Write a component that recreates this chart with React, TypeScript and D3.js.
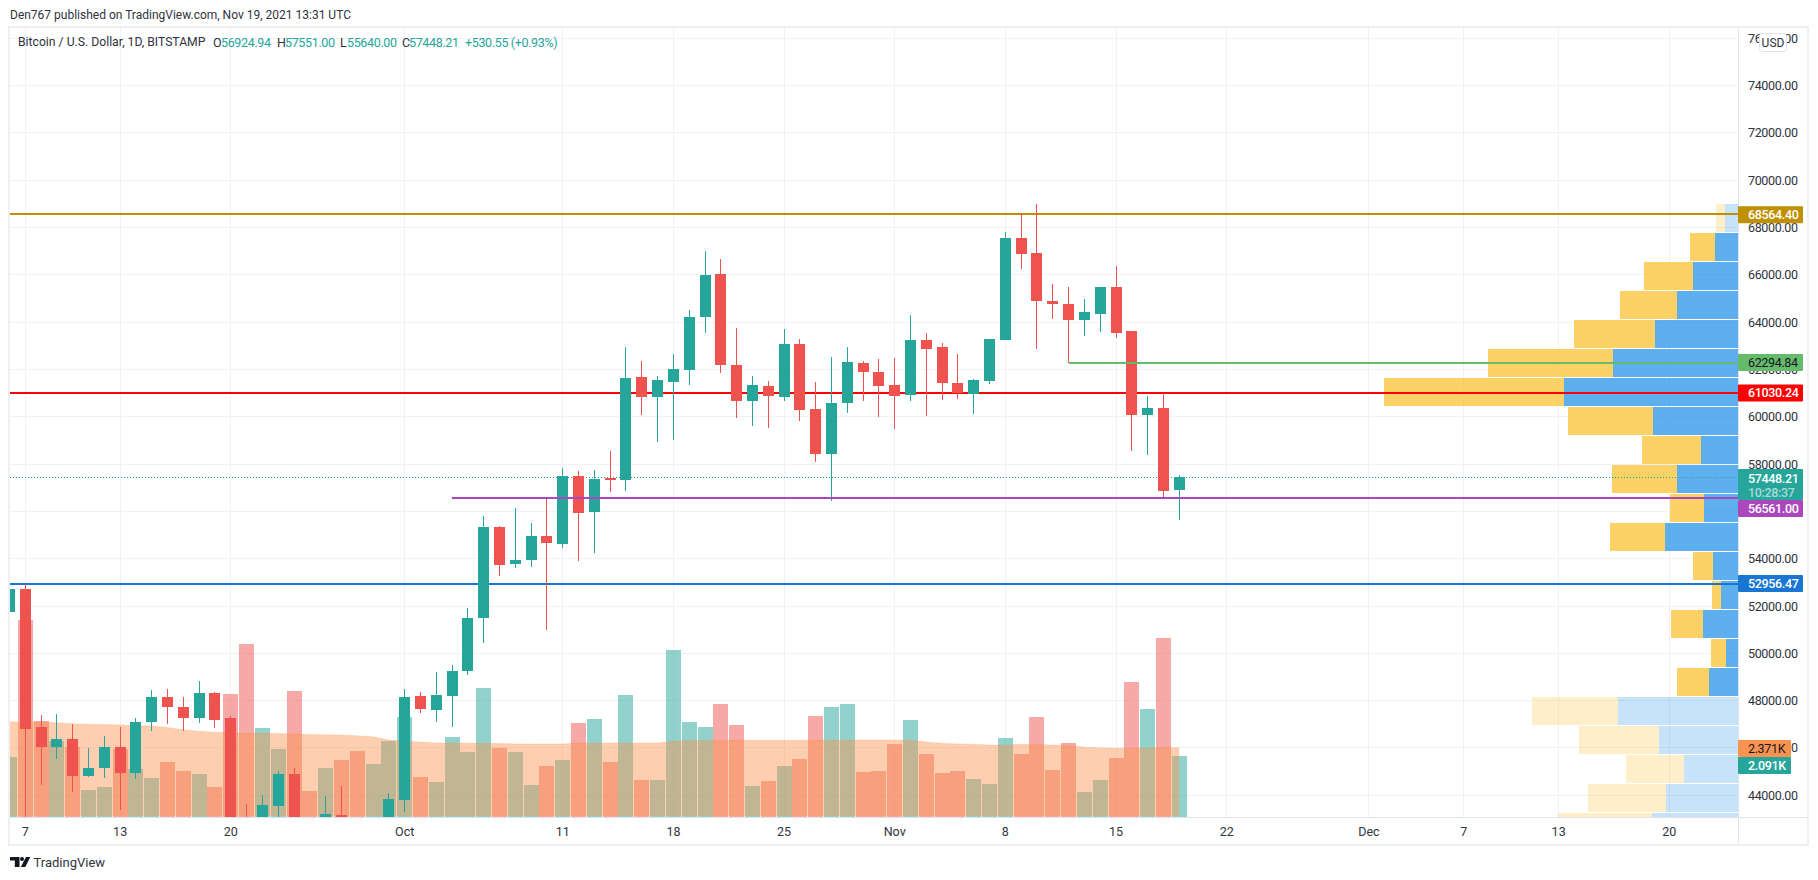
import React from 'react'
import * as d3 from 'd3'

// daily candles, first one is 6 Sep 2021
const firstDay = new Date(Date.UTC(2021, 8, 6))

const opens = [51768, 52728, 46893, 46047, 46386, 44821, 45160, 46047, 44948, 47104, 48161, 47739, 47274, 48331, 47274, 42900, 40700, 43553, 44906, 42800, 42700, 43173, 42200, 41050, 41500,
  43807, 48204, 47612, 48204, 49261, 51502, 55349, 53785, 53954, 54969, 54630, 57505, 55983, 57421, 57336, 61691, 60845, 61480, 61987, 64228, 66046, 62198, 60676, 61311, 60845, 63086, 60338, 58435, 60592, 62283, 61902,
  61353, 60930, 63255, 62959, 61437, 60972, 61522, 63255, 67568, 66934, 64904, 64777, 64101, 64355, 65496, 63636, 60084, 60380, 56924.94]
const highs = [52900, 52950, 47400, 47443, 47020, 46005, 46513, 46893, 47274, 48457, 48500, 48161, 48838, 48376, 47358, 43638, 44018, 45033, 45160, 42900, 43976, 44399, 42780, 42600, 44103,
  48500, 48376, 49218, 49514, 51924, 55814, 55400, 56152, 55518, 56533, 57844, 57717, 57759, 58562, 62959, 62368, 61733, 62663, 64524, 67018, 66680, 63763, 61733, 61522, 63720, 63298, 61480, 62537, 62959, 62368, 62452,
  62494, 64312, 63551, 63129, 62663, 61606, 63298, 67822, 68625, 69005, 65623, 65496, 64989, 65496, 66384, 63636, 60888, 61015, 57551]
const lows = [51400, 42900, 44441, 45540, 44145, 44779, 44737, 43384, 44695, 46724, 47020, 46724, 47062, 46851, 42400, 39600, 39700, 43000, 40800, 41700, 40800, 42100, 40900, 40800, 41300,
  43299, 47485, 47104, 46893, 49092, 50445, 53277, 53616, 53658, 50994, 54461, 53912, 54250, 56829, 56871, 60084, 58943, 59027, 61353, 63551, 61860, 59958, 59619, 59535, 60676, 59831, 58097, 56448, 60169, 60676, 60000,
  59492, 60676, 60042, 60719, 60761, 60127, 61395, 63255, 66257, 62875, 64143, 62283, 63424, 63594, 63340, 58562, 58393, 56617, 55640]
const closes = [52728, 46809, 46047, 46386, 44821, 45160, 46047, 44948, 47104, 48161, 47739, 47274, 48331, 47189, 42900, 40700, 43595, 44906, 42800, 42700, 43215, 42200, 41050, 41500, 43849,
  48161, 47654, 48246, 49261, 51502, 55349, 53742, 53954, 54969, 54673, 57505, 55941, 57378, 57336, 61649, 60845, 61564, 62029, 64228, 66004, 62198, 60676, 61353, 60888, 63086, 60296, 58435, 60592, 62325, 61902, 61311,
  60888, 63255, 62875, 61437, 61015, 61564, 63298, 67568, 66892, 64904, 64777, 64101, 64439, 65496, 63551, 60084, 60380, 56871, 57448.21]

// volume in thousands
const volumes = [2.06, 6.68, 3.27, 2.6, 2.39, 0.94, 1.05, 2.33, 1.65, 1.35, 1.89, 1.59, 1.48, 1.05, 4.18, 5.87, 3.04, 2.33, 4.28, 0.91, 1.69, 1.96, 2.26, 1.82, 2.6,
  3.41, 1.38, 1.21, 2.73, 2.23, 4.38, 2.36, 2.23, 1.11, 1.75, 1.96, 3.2, 3.34, 1.89, 4.15, 1.28, 1.28, 5.67, 3.24, 3.07, 3.84, 3.14, 1.08, 1.25, 1.75, 1.99, 3.44, 3.74, 3.84, 1.55, 1.59,
  2.5, 3.31, 2.16, 1.52, 1.59, 1.32, 1.15, 2.7, 2.16, 3.41, 1.62, 2.53, 0.88, 1.28, 2.02, 4.59, 3.68, 6.07, 2.091]
const volumeMa = [3.24, 3.24, 3.24, 3.21, 3.18, 3.16, 3.15, 3.14, 3.11, 3.11, 3.05, 2.98, 2.93, 2.89, 2.87, 2.87, 2.87, 2.85, 2.83, 2.82, 2.81, 2.8, 2.77, 2.74, 2.63,
  2.6, 2.56, 2.53, 2.53, 2.52, 2.52, 2.51, 2.5, 2.5, 2.5, 2.5, 2.53, 2.53, 2.53, 2.53, 2.53, 2.53, 2.59, 2.62, 2.62, 2.62, 2.63, 2.62, 2.62, 2.62, 2.62, 2.63, 2.63, 2.63, 2.63, 2.63,
  2.63, 2.63, 2.56, 2.52, 2.5, 2.49, 2.46, 2.46, 2.49, 2.48, 2.46, 2.45, 2.39, 2.37, 2.35, 2.35, 2.36, 2.38, 2.371]

// volume profile rows, top row first
const profileTop = 69005
const profileStep = 1226
const profileSell = [9, 25, 49, 57, 81, 125, 180, 85, 59, 65, 34, 55, 20, 9, 32, 15, 32, 86, 80, 58, 78, 94]
const profileBuy = [13, 23, 45, 61, 83, 125, 174, 85, 37, 61, 34, 73, 25, 17, 35, 12, 29, 120, 79, 54, 72, 86]
const profileFaded = [true, false, false, false, false, false, false, false, false, false, false, false, false, false, false, false, false, true, true, true, true, true]

const priceTicks = d3.range(44000, 76001, 2000)
const timeTicks: [string, Date][] = [
  ['7', new Date(Date.UTC(2021, 8, 7))], ['13', new Date(Date.UTC(2021, 8, 13))], ['20', new Date(Date.UTC(2021, 8, 20))],
  ['Oct', new Date(Date.UTC(2021, 9, 1))], ['11', new Date(Date.UTC(2021, 9, 11))], ['18', new Date(Date.UTC(2021, 9, 18))], ['25', new Date(Date.UTC(2021, 9, 25))],
  ['Nov', new Date(Date.UTC(2021, 10, 1))], ['8', new Date(Date.UTC(2021, 10, 8))], ['15', new Date(Date.UTC(2021, 10, 15))], ['22', new Date(Date.UTC(2021, 10, 22))],
  ['Dec', new Date(Date.UTC(2021, 11, 1))], ['7', new Date(Date.UTC(2021, 11, 7))], ['13', new Date(Date.UTC(2021, 11, 13))], ['20', new Date(Date.UTC(2021, 11, 20))],
]

const lastPrice = 57448.21
const levelGold = 68564.4
const levelGreen = 62294.84
const levelRed = 61030.24
const levelPurple = 56561
const levelBlue = 52956.47

const UP = '#26a69a'
const DOWN = '#ef5350'
const GRID = '#f1f2f5'
const BORDER = '#e0e3eb'
const FONT = 'Roboto, "Open Sans", sans-serif'
const TEXT = '#2f333d'
const FS = 12.5
const TIGHT = -0.35

const left = 10
const right = 1738
const top = 28
const bottom = 817

const x = d3.scaleUtc().domain([new Date(Date.UTC(2021, 8, 7)), new Date(Date.UTC(2021, 11, 20))]).range([25.3, 1669.3])
const y = d3.scaleLinear().domain([44000, 76000]).range([795.3, 38.3])
const yVol = d3.scaleLinear().domain([0, 1]).range([818, 788.35])
const profileWidth = d3.scaleLinear().domain([0, 100]).range([0, 100])

const days = opens.map((_, i) => d3.utcDay.offset(firstDay, i))

const maArea = d3.area<number>()
  .x((_, i) => x(days[i]))
  .y0(yVol(0.06))
  .y1(d => yVol(d))
const maLine = d3.line<number>()
  .x((_, i) => x(days[i]))
  .y(d => yVol(d))

const Level = ({ price, color, from = left }: { price: number, color: string, from?: number }) => (
  <rect x={from} width={right - from} y={Math.round(y(price) + 0.2) - 1} height={2} fill={color} shapeRendering="crispEdges" />
)

const Pill = ({ cy, color, label, textColor = '#fff', w = 65 }: { cy: number, color: string, label: string, textColor?: string, w?: number }) => (
  <g>
    <rect x={right} y={cy - 8.5} width={w} height={17} rx={1} fill={color} />
    <text x={right + 10} y={cy} dy="0.36em" fontSize={FS} letterSpacing={TIGHT} fontWeight={textColor === '#fff' ? 500 : 400} fill={textColor}>{label}</text>
  </g>
)

export default function App() {
  return (
    <svg width={1818} height={880} style={{ position: 'absolute', left: 0, top: 0, background: '#fff' }} fontFamily={FONT}>
      <defs>
        <clipPath id="plot"><rect x={left} y={top} width={right - left} height={bottom - top} /></clipPath>
      </defs>

      <text x={10} y={15} dy="0.36em" fontSize={12} fill={TEXT}>Den767 published on TradingView.com, Nov 19, 2021 13:31 UTC</text>

      {/* grid */}
      <g stroke={GRID} strokeWidth={1} shapeRendering="crispEdges">
        {priceTicks.map(p => <line key={p} x1={left} x2={right} y1={y(p)} y2={y(p)} />)}
        {timeTicks.map(([l, d]) => <line key={l + d.getTime()} x1={x(d)} x2={x(d)} y1={top} y2={bottom} />)}
      </g>

      <g clipPath="url(#plot)">
        {/* volume profile */}
        <g shapeRendering="crispEdges">
          {profileBuy.map((b, i) => {
            const rowY = Math.round(y(profileTop - i * profileStep))
            const s = profileSell[i]
            const bw = profileWidth(b)
            const sw = profileWidth(s)
            const faded = profileFaded[i]
            return (
              <g key={i}>
                <rect x={right - bw} y={rowY} width={bw} height={28} fill="rgb(30,144,230)" fillOpacity={faded ? 0.25 : 0.72} />
                <rect x={right - bw - sw} y={rowY} width={sw} height={28} fill="rgb(251,192,45)" fillOpacity={faded ? 0.25 : 0.72} />
              </g>
            )
          })}
        </g>

        {/* volume bars */}
        <g shapeRendering="crispEdges">
          {volumes.map((v, i) => (
            <rect key={i} x={Math.round(x(days[i]) - 7.5)} y={yVol(v)} width={15} height={yVol(0) - yVol(v)}
              fill={closes[i] >= opens[i] ? UP : DOWN} fillOpacity={0.5} />
          ))}
        </g>
        <path d={maArea(volumeMa) as string} fill="rgb(251,146,74)" fillOpacity={0.44} />
        <path d={maLine(volumeMa) as string} fill="none" stroke="rgb(251,146,74)" strokeOpacity={0.2} />

        {/* last price */}
        <line x1={left} x2={right} y1={Math.round(y(lastPrice)) + 0.5} y2={Math.round(y(lastPrice)) + 0.5} stroke={UP} strokeDasharray="1 2" shapeRendering="crispEdges" />
        <Level price={levelRed} color="#ff0000" />
        <Level price={levelGold} color="#bf9000" />
        <Level price={levelBlue} color="#1976d2" />

        {/* candles */}
        <g shapeRendering="crispEdges">
          {opens.map((o, i) => {
            const c = closes[i]
            const cx = x(days[i])
            const color = c >= o ? UP : DOWN
            const bodyTop = y(Math.max(o, c))
            const bodyBottom = y(Math.min(o, c))
            return (
              <g key={i} fill={color}>
                <rect x={Math.floor(cx)} y={y(highs[i])} width={1} height={y(lows[i]) - y(highs[i])} />
                <rect x={Math.floor(cx) - 5} y={bodyTop} width={11} height={Math.max(1, bodyBottom - bodyTop)} />
              </g>
            )
          })}
        </g>

        <Level price={levelGreen} color="#66bb6a" from={x(days[67])} />
        <Level price={levelPurple} color="#ab47bc" from={x(days[28])} />
      </g>

      {/* frame and scale lines */}
      <rect x={9} y={27} width={1799} height={818} fill="none" stroke="#eff0f3" strokeWidth={2} />
      <g stroke={BORDER} strokeWidth={1} shapeRendering="crispEdges">
        <line x1={right} x2={right} y1={top} y2={844} />
        <line x1={left} x2={1807} y1={bottom} y2={bottom} />
      </g>

      {/* legend */}
      <g fontSize={FS} fill={UP}>
        <text x={18} y={42} dy="0.36em" fontSize={12.2} fill={TEXT}>Bitcoin / U.S. Dollar, 1D, BITSTAMP</text>
        <text x={213} y={42} dy="0.36em" fill={TEXT}>O</text>
        <text x={221} y={42} dy="0.36em" letterSpacing={TIGHT}>56924.94</text>
        <text x={277} y={42} dy="0.36em" fill={TEXT}>H</text>
        <text x={285} y={42} dy="0.36em" letterSpacing={TIGHT}>57551.00</text>
        <text x={340} y={42} dy="0.36em" fill={TEXT}>L</text>
        <text x={347} y={42} dy="0.36em" letterSpacing={TIGHT}>55640.00</text>
        <text x={402} y={42} dy="0.36em" fill={TEXT}>C</text>
        <text x={409} y={42} dy="0.36em" letterSpacing={TIGHT}>57448.21</text>
        <text x={465} y={42} dy="0.36em" letterSpacing={TIGHT}>+530.55 (+0.93%)</text>
      </g>

      {/* axes */}
      <g fontSize={FS} fill={TEXT}>
        {priceTicks.map(p => (
          <text key={p} x={right + 10} y={y(p)} dy="0.36em" letterSpacing={TIGHT}>{p.toFixed(2)}</text>
        ))}
        {timeTicks.map(([l, d]) => (
          <text key={l + d.getTime()} x={x(d)} y={831} dy="0.36em" textAnchor="middle">{l}</text>
        ))}
      </g>

      <Pill cy={y(levelGold) + 0.5} color="#bf9000" label={levelGold.toFixed(2)} />
      <Pill cy={y(levelGreen)} color="#66bb6a" label={levelGreen.toFixed(2)} textColor="#131722" />
      <Pill cy={y(levelRed) + 0.5} color="#ff0000" label={levelRed.toFixed(2)} />
      <rect x={right} y={469} width={65} height={31} rx={1} fill={UP} />
      <text x={right + 10} y={478} dy="0.36em" fontSize={FS} letterSpacing={TIGHT} fontWeight={500} fill="#fff">{lastPrice.toFixed(2)}</text>
      <text x={right + 10} y={492} dy="0.36em" fontSize={FS} letterSpacing={TIGHT} fontWeight={500} fill="#fff" fillOpacity={0.6}>10:28:37</text>
      <Pill cy={508.5} color="#ab47bc" label={levelPurple.toFixed(2)} />
      <Pill cy={y(levelBlue)} color="#1976d2" label={levelBlue.toFixed(2)} />
      <Pill cy={748.5} color="#fb9350" label="2.371K" textColor="#131722" w={53} />
      <Pill cy={765.5} color={UP} label="2.091K" w={53} />

      {/* currency badge */}
      <rect x={1759.5} y={33.5} width={27} height={18} rx={3} fill="#fff" stroke={BORDER} />
      <text x={1773} y={42.5} dy="0.36em" fontSize={12} fill={TEXT} textAnchor="middle">USD</text>

      {/* logo */}
      <g fill="#131722">
        <path d="M10 857h9.5v10h-4.7v-6.4H10z" />
        <circle cx={22} cy={859} r={2} />
        <path d="M26 857h4.3l-5 10h-4.5z" />
      </g>
      <text x={33.5} y={862} dy="0.36em" fontSize={13} fill={TEXT}>TradingView</text>
    </svg>
  )
}
